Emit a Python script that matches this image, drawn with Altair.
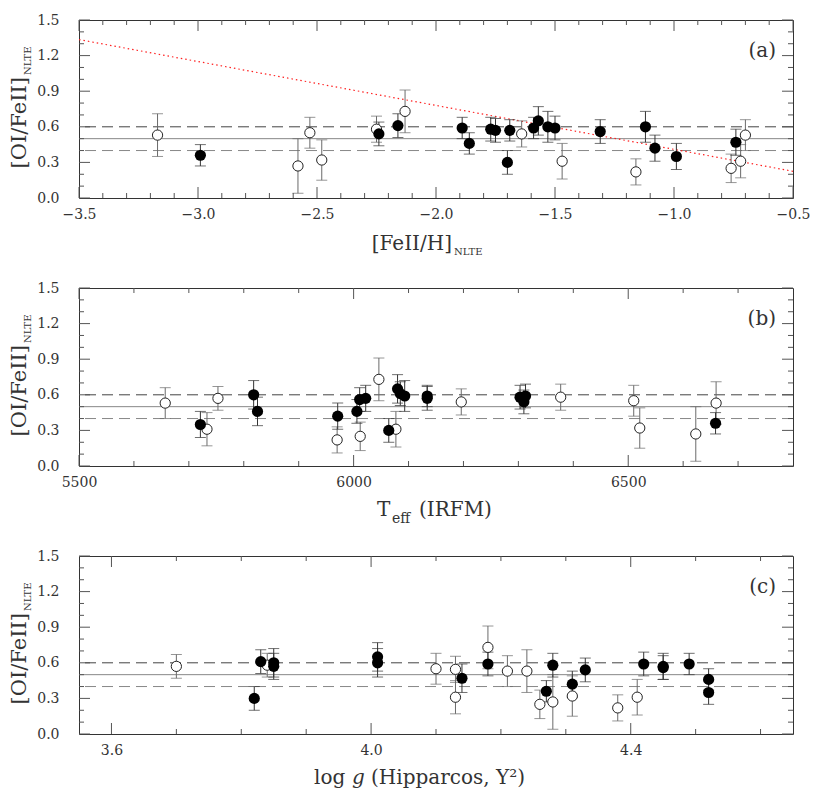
import altair as alt
import pandas as pd

FONT = "DejaVu Serif"
W, H = 714, 178

# ---------------- Panel (a): [FeII/H]_NLTE ----------------
xa_open = [-3.17, -2.58, -2.53, -2.48, -2.25, -2.13, -1.64, -1.47, -1.16, -0.76, -0.72, -0.70]
ya_open = [0.53, 0.27, 0.55, 0.32, 0.58, 0.73, 0.54, 0.31, 0.22, 0.25, 0.31, 0.53]
ea_open = [0.18, 0.23, 0.13, 0.17, 0.11, 0.18, 0.11, 0.15, 0.11, 0.12, 0.14, 0.13]
xa_fill = [-2.99, -2.24, -2.16, -1.89, -1.86, -1.77, -1.75, -1.70, -1.69, -1.59, -1.57, -1.53,
           -1.50, -1.31, -1.12, -1.08, -0.99, -0.74]
ya_fill = [0.36, 0.54, 0.61, 0.59, 0.46, 0.58, 0.57, 0.30, 0.57, 0.59, 0.65, 0.60,
           0.59, 0.56, 0.60, 0.42, 0.35, 0.47]
ea_fill = [0.09, 0.10, 0.10, 0.09, 0.09, 0.10, 0.10, 0.10, 0.09, 0.09, 0.12, 0.13,
           0.10, 0.10, 0.13, 0.11, 0.11, 0.11]
red_x = [-3.5, -0.5]
red_y = [1.335, 0.225]

# ---------------- Panel (b): Teff (IRFM) ----------------
xb_open = [5657, 5733, 5753, 5970, 6012, 6046, 6077, 6196, 6377, 6510, 6521, 6623, 6660]
yb_open = [0.53, 0.31, 0.57, 0.22, 0.25, 0.73, 0.31, 0.54, 0.58, 0.55, 0.32, 0.27, 0.53]
eb_open = [0.13, 0.14, 0.10, 0.11, 0.12, 0.18, 0.15, 0.11, 0.11, 0.13, 0.17, 0.23, 0.18]
xb_fill = [5721, 5818, 5825, 5971, 6006, 6011, 6022, 6064, 6080, 6085, 6093, 6134, 6134,
           6303, 6310, 6313, 6659]
yb_fill = [0.35, 0.60, 0.46, 0.42, 0.46, 0.56, 0.57, 0.30, 0.65, 0.61, 0.59, 0.57, 0.59,
           0.58, 0.54, 0.59, 0.36]
eb_fill = [0.11, 0.12, 0.12, 0.11, 0.10, 0.10, 0.11, 0.10, 0.12, 0.10, 0.13, 0.10, 0.09,
           0.10, 0.10, 0.10, 0.09]

# ---------------- Panel (c): log g ----------------
xc_open = [3.70, 3.84, 4.10, 4.13, 4.13, 4.18, 4.21, 4.24, 4.26, 4.28, 4.31, 4.38, 4.41]
yc_open = [0.57, 0.58, 0.55, 0.545, 0.31, 0.73, 0.53, 0.53, 0.25, 0.27, 0.32, 0.22, 0.31]
ec_open = [0.10, 0.10, 0.13, 0.11, 0.14, 0.18, 0.13, 0.18, 0.12, 0.23, 0.17, 0.11, 0.15]
xc_fill = [3.82, 3.83, 3.85, 3.85, 4.01, 4.01, 4.14, 4.18, 4.27, 4.28, 4.31, 4.33,
           4.42, 4.45, 4.45, 4.49, 4.52, 4.52]
yc_fill = [0.30, 0.61, 0.60, 0.57, 0.65, 0.60, 0.47, 0.59, 0.36, 0.58, 0.42, 0.54,
           0.59, 0.57, 0.56, 0.59, 0.46, 0.35]
ec_fill = [0.10, 0.10, 0.12, 0.11, 0.12, 0.12, 0.12, 0.10, 0.09, 0.10, 0.11, 0.10,
           0.10, 0.11, 0.10, 0.09, 0.09, 0.10]

# reference lines and axis ticks
hline_vals = [0.6, 0.5, 0.4]
hline_kind = ["dash_dark", "solid", "dash_light"]
y_major = [0.0, 0.3, 0.6, 0.9, 1.2, 1.5]
y_minor = [0.1, 0.2, 0.4, 0.5, 0.7, 0.8, 1.0, 1.1, 1.3, 1.4]

xa_major = [-3.5, -3.0, -2.5, -2.0, -1.5, -1.0, -0.5]
xa_minor = [round(-3.5 + 0.1 * i, 2) for i in range(31) if i % 5 != 0]
xb_major = [5500, 6000, 6500]
xb_minor = [5600, 5700, 5800, 5900, 6100, 6200, 6300, 6400, 6600, 6700]
xc_major = [3.6, 4.0, 4.4]
xc_minor = [3.7, 3.8, 3.9, 4.1, 4.2, 4.3, 4.5, 4.6]

panel_labels = ["(a)", "(b)", "(c)"]
ytitle_main = "[OI/FeII]"
ytitle_sub = "NLTE"

TXT = "#333"


def make_panel(xo, yo, eo, xf, yf, ef, dom, xmaj, xmin, fmt, plabel, title_parts, red=None):
    xaxis = alt.Axis(values=xmaj, format=fmt, ticks=False, tickSize=0, domain=False, grid=False,
                     labelFont=FONT, labelFontSize=14, labelColor=TXT, labelPadding=9,
                     labelFlush=False, labelOverlap=False, title=None)
    yaxis = alt.Axis(values=y_major, format=".1f", ticks=False, tickSize=0, domain=False, grid=False,
                     labelFont=FONT, labelFontSize=14, labelColor=TXT, labelPadding=20,
                     labelOverlap=False, title=None)
    xs = alt.Scale(domain=dom, nice=False, zero=False)
    ys = alt.Scale(domain=[0, 1.5], nice=False, zero=False)

    def X(f):
        return alt.X(f, type="quantitative", scale=xs, axis=xaxis)

    def Y(f):
        return alt.Y(f, type="quantitative", scale=ys, axis=yaxis)

    od = pd.DataFrame({"x": xo, "y": yo, "e": eo})
    od["lo"] = od["y"] - od["e"]
    od["hi"] = od["y"] + od["e"]
    fd = pd.DataFrame({"x": xf, "y": yf, "e": ef})
    fd["lo"] = fd["y"] - fd["e"]
    fd["hi"] = fd["y"] + fd["e"]

    hd = pd.DataFrame({"y": hline_vals, "k": hline_kind})
    layers = []
    layers.append(alt.Chart(hd[hd.k == "dash_dark"]).mark_rule(color="#444", strokeDash=[11, 6], strokeWidth=1)
                  .encode(y=Y("y")))
    layers.append(alt.Chart(hd[hd.k == "dash_light"]).mark_rule(color="#888", strokeDash=[11, 6], strokeWidth=1)
                  .encode(y=Y("y")))
    layers.append(alt.Chart(hd[hd.k == "solid"]).mark_rule(color="#888", strokeWidth=1)
                  .encode(y=Y("y")))
    if red is not None:
        rd = pd.DataFrame({"x": red[0], "y": red[1]})
        layers.append(alt.Chart(rd).mark_line(color="#ff2020", strokeDash=[1.5, 3], strokeWidth=1.2)
                      .encode(x=X("x"), y=Y("y")))
    for d, col in ((od, "#6a6a6a"), (fd, "#333333")):
        layers.append(alt.Chart(d).mark_rule(color=col, strokeWidth=1)
                      .encode(x=X("x"), y=Y("lo"), y2=alt.Y2("hi")))
        layers.append(alt.Chart(d).mark_tick(color=col, orient="horizontal", size=11, thickness=1)
                      .encode(x=X("x"), y=Y("lo")))
        layers.append(alt.Chart(d).mark_tick(color=col, orient="horizontal", size=11, thickness=1)
                      .encode(x=X("x"), y=Y("hi")))
    layers.append(alt.Chart(od).mark_point(shape="circle", filled=False, fill="white", fillOpacity=1,
                                           stroke="#222", strokeWidth=1, size=105, opacity=1)
                  .encode(x=X("x"), y=Y("y")))
    layers.append(alt.Chart(fd).mark_point(shape="circle", filled=True, color="black", size=125, opacity=1)
                  .encode(x=X("x"), y=Y("y")))

    # inward ticks on all four sides
    tick_col = "#555"
    for vals, ln in ((xmaj, 11), (xmin, 5)):
        td = pd.DataFrame({"v": vals})
        layers.append(alt.Chart(td).mark_rule(color=tick_col, strokeWidth=1)
                      .encode(x=X("v"), y=alt.value(H), y2=alt.value(H - ln)))
        layers.append(alt.Chart(td).mark_rule(color=tick_col, strokeWidth=1)
                      .encode(x=X("v"), y=alt.value(0), y2=alt.value(ln)))
    for vals, ln in ((y_major, 11), (y_minor, 5)):
        td = pd.DataFrame({"v": vals})
        layers.append(alt.Chart(td).mark_rule(color=tick_col, strokeWidth=1)
                      .encode(y=Y("v"), x=alt.value(0), x2=alt.value(ln)))
        layers.append(alt.Chart(td).mark_rule(color=tick_col, strokeWidth=1)
                      .encode(y=Y("v"), x=alt.value(W - ln), x2=alt.value(W)))

    def txt(s, x, y, size, align="left", baseline="alphabetic", angle=0, style="normal"):
        d = pd.DataFrame({"t": [s]})
        kw = dict(font=FONT, fontSize=size, color=TXT, align=align, baseline=baseline, fontStyle=style)
        if angle:
            kw["angle"] = angle
        return alt.Chart(d).mark_text(**kw).encode(x=alt.value(x), y=alt.value(y), text="t:N")

    layers.append(txt(plabel, 697, 31, 20, align="right", baseline="middle"))
    layers.append(txt(ytitle_main, -53, 57, 21, align="right", angle=270))
    layers.append(txt(ytitle_sub, -48, 55, 10, align="left", angle=270))
    for (s, x, y, size, align, style) in title_parts:
        layers.append(txt(s, x, y, size, align=align, style=style))

    return alt.layer(*layers).properties(width=W, height=H)


pa = make_panel(xa_open, ya_open, ea_open, xa_fill, ya_fill, ea_fill, [-3.5, -0.5],
                xa_major, xa_minor, ".1f", panel_labels[0],
                [("[FeII/H]", 373, 230, 20, "right", "normal"),
                 ("NLTE", 375, 235, 10, "left", "normal")],
                red=(red_x, red_y))
pb = make_panel(xb_open, yb_open, eb_open, xb_fill, yb_fill, eb_fill, [5500, 6800],
                xb_major, xb_minor, "d", panel_labels[1],
                [("T", 298, 228, 20, "left", "normal"),
                 ("eff", 313, 235, 14, "left", "normal"),
                 ("(IRFM)", 340, 228, 20, "left", "normal")])
pc = make_panel(xc_open, yc_open, ec_open, xc_fill, yc_fill, ec_fill, [3.55, 4.65],
                xc_major, xc_minor, ".1f", panel_labels[2],
                [("log", 235, 228, 20, "left", "normal"),
                 ("g", 273, 228, 20, "left", "italic"),
                 ("(Hipparcos, Y\u00b2)", 292, 228, 20, "left", "normal")])

chart = alt.vconcat(pa, pb, pc, spacing=90, bounds="flush").properties(
    padding={"left": 0, "top": 4, "right": 0, "bottom": 0}
).configure_view(stroke="#333", strokeWidth=1)

chart.save("out.html", embed_options={"renderer": "svg", "actions": False})
